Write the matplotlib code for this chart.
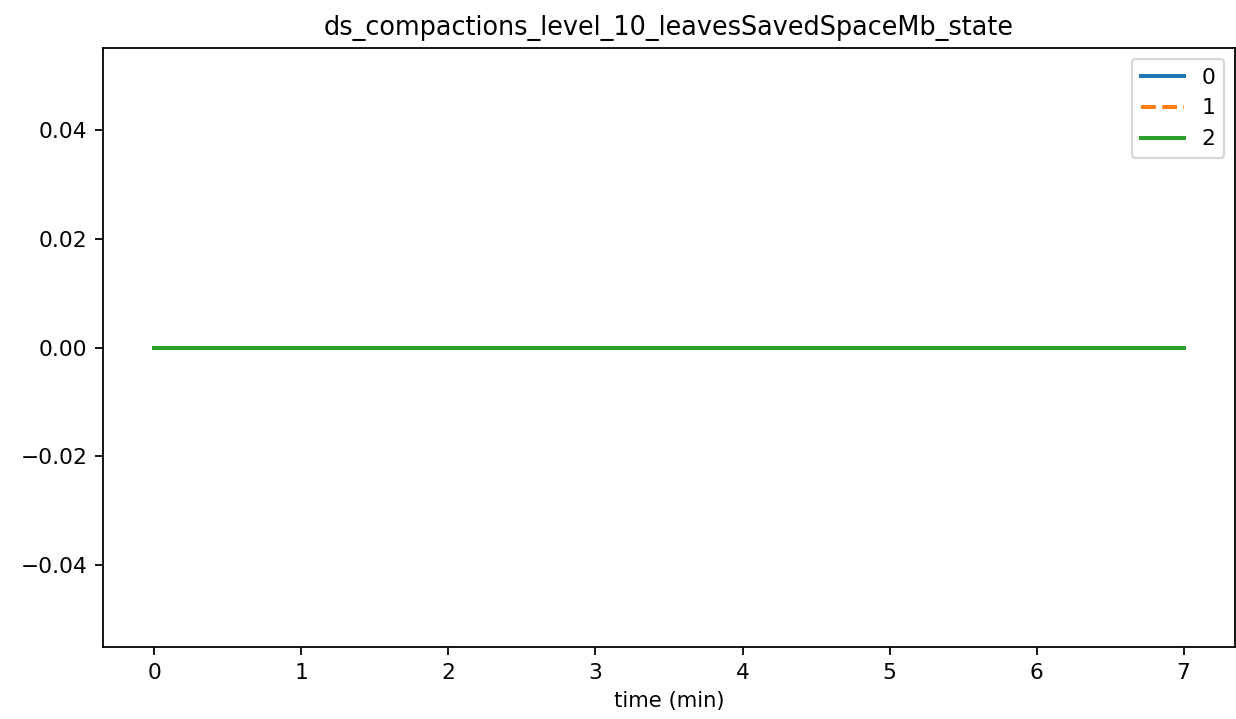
import matplotlib
matplotlib.use('Agg')
import matplotlib.pyplot as plt

# time in minutes and the three series (all flat at zero)
time_min = [0, 1, 2, 3, 4, 5, 6, 7]
series_0 = [0, 0, 0, 0, 0, 0, 0, 0]
series_1 = [0, 0, 0, 0, 0, 0, 0, 0]
series_2 = [0, 0, 0, 0, 0, 0, 0, 0]

dpi = 160
fig = plt.figure(figsize=(1236 / dpi, 719 / dpi), dpi=dpi)
ax = fig.add_axes([103 / 1236, 72 / 719, 1132 / 1236, 599 / 719])

ax.plot(time_min, series_0, color='#1f77b4', linewidth=1.8, label='0')
ax.plot(time_min, series_1, color='#ff7f0e', linewidth=1.8, linestyle='--', label='1')
ax.plot(time_min, series_2, color='#2ca02c', linewidth=1.8, label='2')

ax.set_title('ds_compactions_level_10_leavesSavedSpaceMb_state', fontsize=11.5)
ax.set_xlabel('time (min)', fontsize=9.5)
ax.tick_params(labelsize=9.8)
ax.legend(loc='upper right', fontsize=9.8)

fig.savefig('out.png', dpi=dpi)
